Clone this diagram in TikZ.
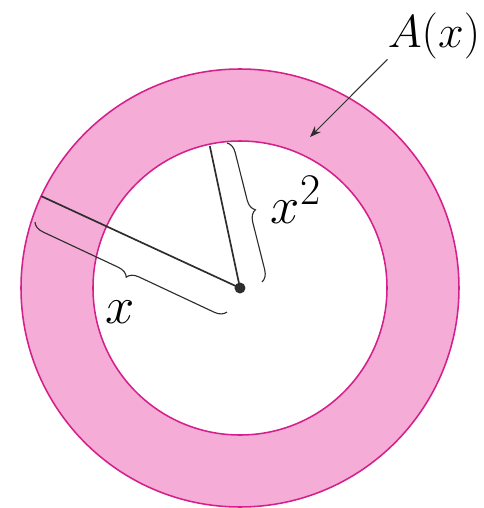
\documentclass[tikz,border=0pt]{standalone}
\usepackage{tikz}
\usetikzlibrary{positioning,arrows.meta,decorations.pathreplacing,calc}

\definecolor{ringfill}{RGB}{245,172,214}
\definecolor{ringedge}{RGB}{212,32,140}
\definecolor{inkgray}{RGB}{45,45,45}

\begin{document}
\begin{tikzpicture}[
  x=0.025cm, y=0.025cm,
  >={Stealth[length=8pt,width=6pt]},
  % ring and inner disc share the magenta edge
  ring/.style={draw=ringedge, line width=1.1pt},
  radius line/.style={draw=inkgray, line width=1.2pt},
  brace/.style={decorate, decoration={brace, amplitude=8pt},
    draw=inkgray, line width=0.8pt},
  biglabel/.style={font=\Huge, scale=1.5, inner sep=0pt},
  arealabel/.style={font=\Huge, scale=1.32, inner sep=0pt},
]

% ---------------------------------------------------------------
% Canvas: origin at the common centre, 1 unit = 1 pixel
% ---------------------------------------------------------------
\useasboundingbox (-240,-220) rectangle (243,288);

% --- Annulus ---
\fill[ringfill, even odd rule] (0,0) circle (219) (0,0) circle (147);
\draw[ring] (0,0) circle (219);
\draw[ring] (0,0) circle (147);

% --- Centre and radius end points ---
\coordinate (O) at (0,0);
\coordinate (outer) at (155.2:219);
\coordinate (inner) at (102:145);

\draw[radius line] (O) -- (outer);
\draw[radius line] (O) -- (inner);
\fill[inkgray] (O) circle (5.5);

% ---------------------------------------------------------------
% Braces beside the two radii
% ---------------------------------------------------------------
\coordinate (xb1) at (-13,-24);
\coordinate (xb2) at (-205,66);
\draw[brace] (xb1) -- (xb2);

\coordinate (sb1) at (-13,145);
\coordinate (sb2) at (22,6);
\draw[brace] (sb1) -- (sb2);

\node[biglabel] (xlab) at (-120,-24) {$x$};
\node[biglabel] (sqlab) at (56,88) {$x^2$};

% ---------------------------------------------------------------
% Area label with its arrow into the ring
% ---------------------------------------------------------------
\node[arealabel] (alab) at (194,252) {$A(x)$};
\coordinate (ringpt) at (70,151);
\draw[->, draw=inkgray, line width=0.7pt] (alab.south west) -- (ringpt);

\end{tikzpicture}
\end{document}
